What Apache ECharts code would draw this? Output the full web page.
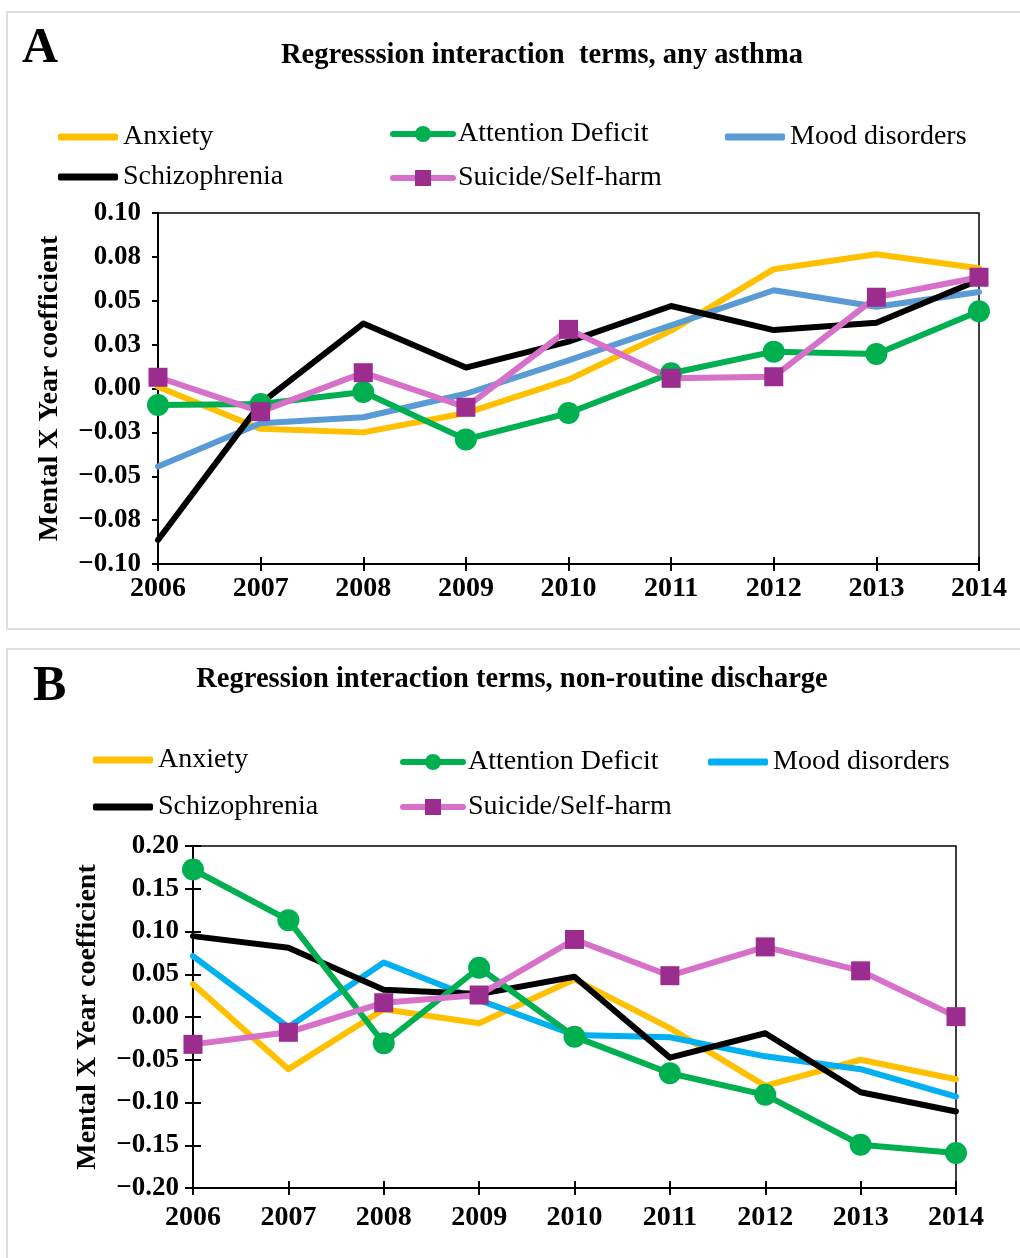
<!DOCTYPE html>
<html>
<head>
<meta charset="utf-8">
<script src="https://cdn.jsdelivr.net/npm/echarts@6/dist/echarts.min.js"></script>
<style>
  html, body { margin: 0; padding: 0; background: #fff; }
  #chartA { position: absolute; left: 0; top: 0; width: 1020px; height: 640px; }
  #chartB { position: absolute; left: 0; top: 640px; width: 1020px; height: 618px; }
</style>
</head>
<body>
<div id="chartA"></div>
<div id="chartB"></div>
<script>
const years = ['2006', '2007', '2008', '2009', '2010', '2011', '2012', '2013', '2014']

// panel A: any asthma
const anxietyA = [0.001, -0.023, -0.025, -0.014, 0.005, 0.033, 0.068, 0.0765, 0.0685]
const attentionA = [-0.0094, -0.0088, -0.002, -0.029, -0.014, 0.0087, 0.021, 0.0197, 0.044]
const moodA = [-0.0445, -0.0198, -0.0164, -0.003, 0.016, 0.036, 0.056, 0.0466, 0.055]
const schizoA = [-0.0863, -0.0085, 0.037, 0.0119, 0.0267, 0.047, 0.0333, 0.0375, 0.0618]
const suicideA = [0.0064, -0.0132, 0.009, -0.0107, 0.0337, 0.0058, 0.0067, 0.052, 0.0634]
const yLabelsA = ['−0.10', '−0.08', '−0.05', '−0.03', '0.00', '0.03', '0.05', '0.08', '0.10']

// panel B: non-routine discharge
const anxietyB = [0.0385, -0.061, 0.009, -0.0074, 0.044, -0.013, -0.0806, -0.05, -0.0728]
const attentionB = [0.1725, 0.1133, -0.0307, 0.0576, -0.023, -0.0658, -0.091, -0.1494, -0.159]
const moodB = [0.0712, -0.012, 0.0638, 0.0198, -0.021, -0.0237, -0.046, -0.061, -0.093]
const schizoB = [0.0946, 0.081, 0.032, 0.0268, 0.047, -0.0475, -0.019, -0.088, -0.1105]
const suicideB = [-0.032, -0.0179, 0.0167, 0.0257, 0.0907, 0.0483, 0.082, 0.054, 0.0004]
const yLabelsB = ['−0.20', '−0.15', '−0.10', '−0.05', '0.00', '0.05', '0.10', '0.15', '0.20']

const serif = "'Liberation Serif', 'Times New Roman', serif"
const yellow = '#FFC000'
const green = '#00B050'
const black = '#000000'
const pink = '#D670C8'
const purple = '#9B2D8E'

const lineSeries = (name, data, color, extra) => Object.assign({
  type: 'line',
  name,
  data,
  symbol: 'none',
  lineStyle: { color, width: 6, cap: 'round', join: 'round' },
  itemStyle: { color },
  silent: true,
  animation: false,
}, extra || {})

// plain line items get a flat rounded bar, marker items keep line + symbol
const legendItem = (name, left, top, color) => ({
  left,
  top,
  padding: 0,
  data: color ? [{ name, icon: 'roundRect', itemStyle: { color } }] : [name],
  itemWidth: 60,
  itemHeight: color ? 7 : 20,
  selectedMode: false,
  textStyle: { fontFamily: serif, fontSize: 28, color: '#000' },
  lineStyle: { width: 6, cap: 'round' },
})

const buildOption = (cfg) => {
  const interval = (cfg.max - cfg.min) / 8
  const yLabel = (v) => cfg.yLabels[Math.round((v - cfg.min) / interval)]
  const [lx, lt] = [cfg.legX, cfg.legTop]
  return {
    backgroundColor: '#fff',
    animation: false,
    graphic: [
      {
        type: 'rect',
        shape: { x: 7, y: cfg.frameTop, width: 1100, height: cfg.frameHeight },
        style: { fill: 'none', stroke: '#dedede', lineWidth: 2 },
        silent: true,
      },
      {
        type: 'text',
        left: cfg.letterX,
        top: cfg.letterTop,
        style: { text: cfg.letter, font: 'bold 50px ' + serif, fill: '#000' },
      },
      {
        type: 'text',
        x: cfg.titleX,
        y: cfg.titleY,
        style: {
          text: cfg.title,
          font: 'bold 28.5px ' + serif,
          fill: '#000',
          textAlign: 'center',
          textVerticalAlign: 'middle',
        },
      },
    ],
    legend: [
      legendItem('Anxiety', lx[0], lt[0], yellow),
      legendItem('Attention Deficit', lx[1], lt[1]),
      legendItem('Mood disorders', lx[2], lt[2], cfg.moodColor),
      legendItem('Schizophrenia', lx[0], lt[3], black),
      legendItem('Suicide/Self-harm', lx[1], lt[4]),
    ],
    grid: {
      left: cfg.grid[0], top: cfg.grid[1], right: cfg.grid[2], bottom: cfg.grid[3],
      show: true, borderColor: '#000', borderWidth: 1.5, backgroundColor: 'transparent',
    },
    xAxis: [
      {
        type: 'category',
        data: years,
        boundaryGap: false,
        position: 'bottom',
        axisLine: { onZero: false, lineStyle: { color: '#000', width: 2 } },
        axisTick: { show: true, length: 7, lineStyle: { color: '#000', width: 2 } },
        axisLabel: { fontFamily: serif, fontSize: 28, fontWeight: 'bold', color: '#000', margin: cfg.xMargin },
        splitLine: { show: false },
      },
      {
        type: 'category',
        data: years,
        boundaryGap: false,
        position: 'bottom',
        axisLine: { show: false, onZero: false },
        axisTick: { show: true, inside: true, length: 7, lineStyle: { color: '#000', width: 2 } },
        axisLabel: { show: false },
        splitLine: { show: false },
      },
    ],
    yAxis: [
      {
        type: 'value',
        min: cfg.min,
        max: cfg.max,
        interval,
        name: 'Mental X Year coefficient',
        nameLocation: 'middle',
        nameGap: cfg.nameGap,
        nameTextStyle: { fontFamily: serif, fontSize: 28, fontWeight: 'bold', color: '#000' },
        axisLine: { show: true, onZero: false, lineStyle: { color: '#000', width: 2 } },
        axisTick: { show: true, length: cfg.yTick, lineStyle: { color: '#000', width: 2 } },
        axisLabel: {
          fontFamily: serif, fontSize: 27, fontWeight: 'bold', color: '#000',
          margin: cfg.labelMargin, formatter: yLabel,
        },
        splitLine: { show: false },
      },
      {
        type: 'value',
        min: cfg.min,
        max: cfg.max,
        interval,
        position: 'left',
        axisLine: { show: false, onZero: false },
        axisTick: { show: cfg.yCross, inside: true, length: cfg.yTick, lineStyle: { color: '#000', width: 2 } },
        axisLabel: { show: false },
        splitLine: { show: false },
      },
    ],
    series: [
      lineSeries('Anxiety', cfg.data[0], yellow),
      lineSeries('Mood disorders', cfg.data[2], cfg.moodColor),
      lineSeries('Schizophrenia', cfg.data[3], black),
      lineSeries('Attention Deficit', cfg.data[1], green, {
        symbol: 'circle', symbolSize: 22, showSymbol: true,
      }),
      lineSeries('Suicide/Self-harm', cfg.data[4], pink, {
        symbol: 'rect', symbolSize: 19, showSymbol: true, itemStyle: { color: purple },
      }),
    ],
  }
}

const chartA = echarts.init(document.getElementById('chartA'))
chartA.setOption(buildOption({
  letter: 'A', letterX: 22, letterTop: 24,
  title: 'Regresssion interaction  terms, any asthma', titleX: 542, titleY: 56,
  frameTop: 12, frameHeight: 617,
  legX: [58, 390, 725], legTop: [123, 120, 123, 163, 164],
  grid: [158, 213, 41, 76],
  min: -0.1, max: 0.1, yLabels: yLabelsA,
  nameGap: 94, labelMargin: 17, yTick: 6, yCross: false, xMargin: 11,
  moodColor: '#5B9BD5',
  data: [anxietyA, attentionA, moodA, schizoA, suicideA],
}))

const chartB = echarts.init(document.getElementById('chartB'))
chartB.setOption(buildOption({
  letter: 'B', letterX: 33, letterTop: 22,
  title: 'Regression interaction terms, non-routine discharge', titleX: 512, titleY: 40,
  frameTop: 9, frameHeight: 700,
  legX: [93, 400, 708], legTop: [106, 108, 108, 153, 153],
  grid: [193, 206, 64, 70],
  min: -0.2, max: 0.2, yLabels: yLabelsB,
  nameGap: 91, labelMargin: 14, yTick: 8, yCross: true, xMargin: 16,
  moodColor: '#00B0F0',
  data: [anxietyB, attentionB, moodB, schizoB, suicideB],
}))
</script>
</body>
</html>
